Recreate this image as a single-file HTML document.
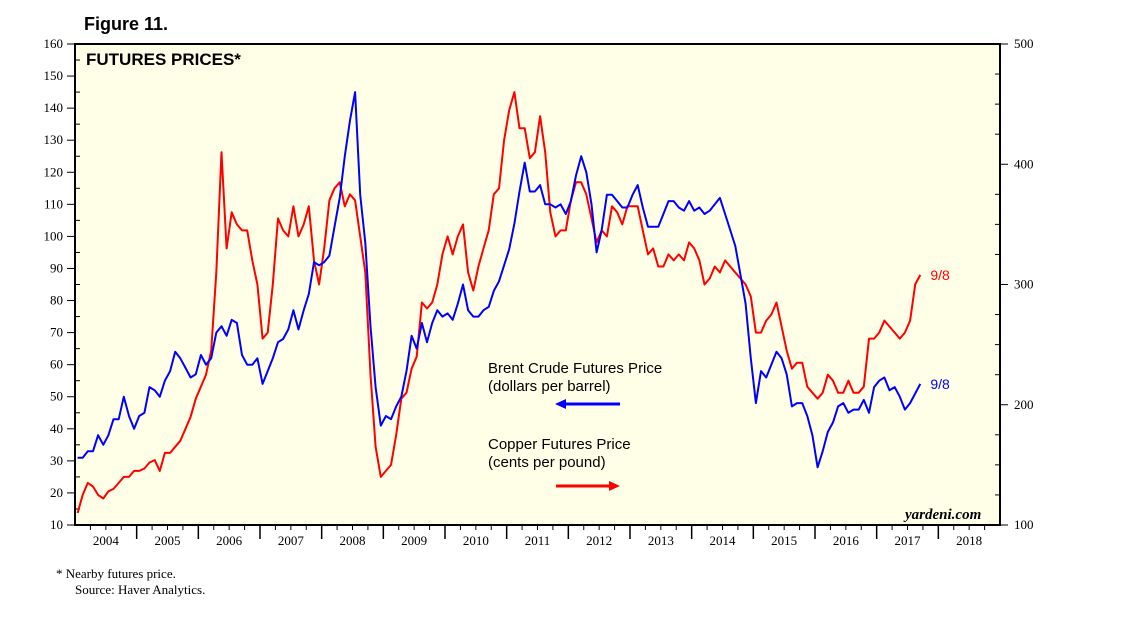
<!DOCTYPE html>
<html><head><meta charset="utf-8">
<style>
body{margin:0;background:#fff;width:1138px;height:621px;overflow:hidden}
svg{display:block}
.ser{font-family:"Liberation Serif",serif;font-size:13px;fill:#000}
.san{font-family:"Liberation Sans",sans-serif}
</style></head><body>
<svg id="c" width="1138" height="621">
<text x="84" y="30" class="san" font-size="18" font-weight="bold">Figure 11.</text>
<rect x="75" y="44" width="925" height="481" fill="#ffffe8" stroke="#000" stroke-width="2"/>
<text x="86" y="65" class="san" font-size="17" font-weight="bold">FUTURES PRICES*</text>
<g id="axes"></g>
<g id="lines"></g>
<text x="488" y="373" class="san" font-size="15">Brent Crude Futures Price</text>
<text x="488" y="391" class="san" font-size="15">(dollars per barrel)</text>
<line x1="562" y1="404" x2="620" y2="404" stroke="#0000ff" stroke-width="3"/>
<polygon points="555,404 566,399 566,409" fill="#0000ff"/>
<text x="488" y="449" class="san" font-size="15">Copper Futures Price</text>
<text x="488" y="467" class="san" font-size="15">(cents per pound)</text>
<line x1="556" y1="486" x2="612" y2="486" stroke="#ff0000" stroke-width="3"/>
<polygon points="620,486 609,481 609,491" fill="#ff0000"/>
<text x="905" y="519" font-family="Liberation Serif,serif" font-style="italic" font-weight="bold" font-size="15">yardeni.com</text>
<text x="56" y="578" class="ser" font-size="13">*  Nearby futures price.</text>
<text x="75" y="594" class="ser" font-size="13">Source: Haver Analytics.</text>
</svg>
<script>
const years=[2004,2005,2006,2007,2008,2009,2010,2011,2012,2013,2014,2015,2016,2017,2018];
const leftTicks=[10,20,30,40,50,60,70,80,90,100,110,120,130,140,150,160];
const rightTicks=[100,200,300,400,500];
const brent=[31,31,33,33,38,35,38,43,43,50,44,40,
44,45,53,52,50,55,58,64,62,59,56,57,
63,60,62,70,72,69,74,73,63,60,60,62,
54,58,62,67,68,71,77,71,77,82,92,91,
92,94,103,112,125,136,145,113,98,72,53,41,
44,43,47,50,58,69,65,73,67,73,77,75,
76,74,79,85,77,75,75,77,78,83,86,91,
96,104,114,123,114,114,116,110,110,109,110,107,
111,119,125,120,110,95,102,113,113,111,109,109,
113,116,109,103,103,103,107,111,111,109,108,111,
108,109,107,108,110,112,107,102,97,88,79,62,
48,58,56,60,64,62,57,47,48,48,44,38,
28,33,39,42,47,48,45,46,46,49,45,53,
55,56,52,53,50,46,48,51,54];
const copper=[110,125,135,132,125,122,128,130,135,140,140,145,
145,147,152,154,145,160,160,165,170,180,190,205,
215,225,245,310,410,330,360,350,345,345,320,300,
255,260,300,355,345,340,365,340,350,365,320,300,
330,370,380,385,365,375,370,340,310,225,165,140,
145,150,175,205,210,230,240,285,280,285,300,325,
340,325,340,350,310,295,315,330,345,375,380,420,
445,460,430,430,405,410,440,410,360,340,345,345,
370,385,385,375,355,335,345,340,365,360,350,365,
365,365,345,325,330,315,315,325,320,325,320,335,
330,320,300,305,315,310,320,315,310,305,300,290,
260,260,270,275,285,265,245,230,235,235,215,210,
205,210,225,220,210,210,220,210,210,215,255,255,
260,270,265,260,255,260,270,300,308];
const X0=75,X1=1000,Y0=525,Y1=44;
const xs=t=>X0+(t-2004)/15*(X1-X0);
const yl=v=>Y0-(v-10)/150*(Y0-Y1);
const yr=v=>Y0-(v-100)/400*(Y0-Y1);
const NS='http://www.w3.org/2000/svg';
const ax=document.getElementById('axes'),ln=document.getElementById('lines');
function mk(tag,attrs,parent,txt){const e=document.createElementNS(NS,tag);for(const k in attrs)e.setAttribute(k,attrs[k]);if(txt!=null)e.textContent=txt;parent.appendChild(e);return e;}
leftTicks.forEach(v=>{const y=yl(v);
const t=mk('line',{x1:X0-8,x2:X0,y1:y,y2:y,stroke:'#000'},ax);


const l=mk('text',{x:X0-12,y:y+4,'text-anchor':'end',class:'ser'},ax,v);


if(v<160){const ym=yl(v+5);mk('line',{x1:X0,x2:X0+5,y1:ym,y2:ym,stroke:'#000'},ax);}
});
rightTicks.forEach(v=>{const y=yr(v);
const t=mk('line',{x1:X1,x2:X1+8,y1:y,y2:y,stroke:'#000'},ax);


const l=mk('text',{x:X1+14,y:y+4,class:'ser'},ax,v);


if(v<500){for(let k=1;k<4;k++){const ym=yr(v+k*25);mk('line',{x1:X1-5,x2:X1,y1:ym,y2:ym,stroke:'#000'},ax);}}
});
years.forEach(yv=>{const x=xs(yv);
if(yv>2004){const t=mk('line',{x1:x,x2:x,y1:Y0,y2:Y0+14,stroke:'#000','stroke-width':1.5},ax);

}
for(let q=1;q<4;q++){const xq=xs(yv+q/4);mk('line',{x1:xq,x2:xq,y1:Y0,y2:Y0+5,stroke:'#000'},ax);}
const l=mk('text',{x:xs(yv+0.5),y:Y0+20,'text-anchor':'middle',class:'ser'},ax,yv);


});
function path(arr,yf,color,name){
const d=arr.map((v,i)=>(i?'L':'M')+xs(2004+(i+0.5)/12).toFixed(1)+','+yf(v).toFixed(1)).join('');
const p=mk('path',{d:d,fill:'none',stroke:color,'stroke-width':2,'stroke-linejoin':'round'},ln);


return xs(2004+(arr.length-0.5)/12);
}
const xc=path(copper,yr,'#ff0000','copper-line');
const xb=path(brent,yl,'#0000ff','brent-line');
const lc=mk('text',{x:xc+10,y:yr(copper[copper.length-1])+5,class:'san','font-size':14,fill:'#ff0000'},ln,'9/8');


const lb=mk('text',{x:xb+10,y:yl(brent[brent.length-1])+5,class:'san','font-size':14,fill:'#0000ff'},ln,'9/8');


</script>
</body></html>
